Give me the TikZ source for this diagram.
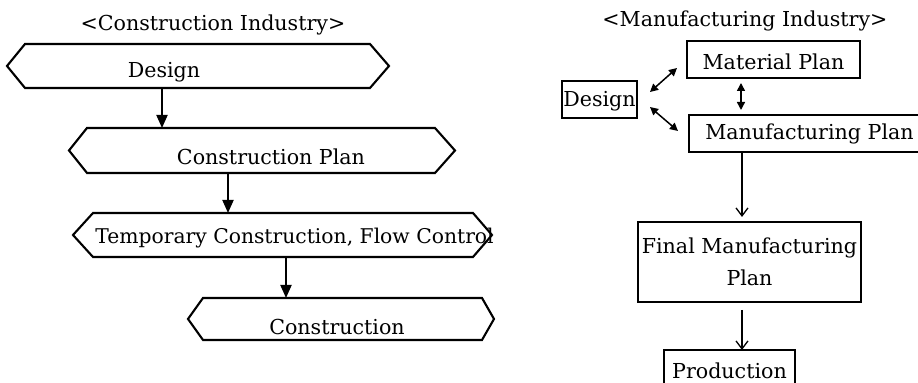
\documentclass[tikz,border=0pt]{standalone}
\usepackage{fontspec}
\setmainfont{DejaVu Serif}
\usetikzlibrary{arrows.meta}
\newcommand{\hexof}[3]{%
  \draw[hexline] (#1.west) -- ([xshift=#2]#1.north west) -- ([xshift=-#3]#1.north east) -- (#1.east)
    -- ([xshift=-#3]#1.south east) -- ([xshift=#2]#1.south west) -- cycle;}
\begin{document}
\begin{tikzpicture}[x=0.5pt,y=-0.5pt,
  every node/.style={font=\fontsize{10.3pt}{12pt}\selectfont},
  hexarea/.style={inner sep=0pt, outer sep=0pt, minimum width=#1, minimum height=22pt},
  hexline/.style={line width=1.05pt, line join=miter},
  box/.style={draw, line width=0.75pt, inner sep=0pt, outer sep=0pt, text depth=0pt},
  arrL/.style={line width=0.95pt, -{Triangle[length=6.5pt,width=5.5pt]}},
  arrR/.style={line width=0.65pt, -{Straight Barb[length=4pt,width=6pt]}},
  dbl/.style={line width=0.75pt, {Triangle[length=4pt,width=4pt]}-{Triangle[length=4pt,width=4pt]}}
]
\useasboundingbox (0,0) rectangle (918,383);
\fill[white] (0,0) rectangle (918,383);
\clip (0,0) rectangle (918,383);

% ---- Construction industry ----
\node[anchor=base] (ct) at (213,31) {<Construction Industry>};

\node[hexarea=191pt] (dh) at (198,66) {};
\hexof{dh}{9pt}{9.5pt}
\node[anchor=base] (dt) at (164,78) {Design};

\node[hexarea=193pt, minimum height=22.5pt] (cph) at (262,150.5) {};
\hexof{cph}{9pt}{10pt}
\node[anchor=base] (cpt) at (271,165) {Construction Plan};

\node[hexarea=209.5pt] (tch) at (282.5,235) {};
\hexof{tch}{10pt}{9.5pt}
\node[anchor=base west, inner xsep=0pt, font=\fontsize{10.15pt}{12pt}\selectfont] (tct) at (95,244) {Temporary Construction, Flow Control};

\node[hexarea=153pt, minimum height=21pt] (coh) at (341,319) {};
\hexof{coh}{7.5pt}{6pt}
\node[anchor=base] (cot) at (337,335) {Construction};

\coordinate (a1) at ([xshift=-18pt]dh.south);
\draw[arrL] (a1) -- (a1 |- cph.north);
\coordinate (a2) at ([xshift=-17pt]cph.south);
\draw[arrL] (a2) -- (a2 |- tch.north);
\coordinate (a3) at ([xshift=1.75pt]tch.south);
\draw[arrL] (a3) -- (a3 |- coh.north);

% ---- Manufacturing industry ----
\node[anchor=base] (mt) at (745,27) {<Manufacturing Industry>};

\node[box, minimum width=37.5pt, minimum height=18.5pt, text height=7.5pt] (rd) at (599.5,99.5) {Design};
\node[box, minimum width=86.5pt, minimum height=18.5pt, text height=10.5pt] (mp) at (773.5,59.5) {Material Plan};
\node[box, minimum width=120.5pt, minimum height=18.5pt, text height=6.5pt] (mf) at (809.5,133.5) {Manufacturing Plan};
\node[draw, line width=0.75pt, inner sep=0pt, outer sep=0pt, minimum width=111.5pt, minimum height=40pt,
      align=center, font=\fontsize{10.3pt}{16pt}\selectfont] (fp) at (749.5,262) {Final Manufacturing\\Plan};
\node[box, line width=1.2pt, minimum width=65.5pt, minimum height=22.5pt, text height=6.5pt] (pr) at (729.5,372.5) {Production};

\coordinate (b1s) at ([xshift=6.5pt,yshift=3.75pt]rd.east);
\coordinate (b1e) at ([xshift=-5pt,yshift=-4.25pt]mp.west);
\draw[dbl] (b1s) -- (b1e);
\coordinate (b2s) at ([xshift=6.5pt,yshift=-3.75pt]rd.east);
\coordinate (b2e) at ([xshift=-5.5pt,yshift=1.25pt]mf.west);
\draw[dbl] (b2s) -- (b2e);
\coordinate (b3s) at ([xshift=-16.25pt,yshift=-2.5pt]mp.south);
\coordinate (b3m) at (b3s |- mf.north);
\coordinate (b3e) at ([yshift=2.5pt]b3m);
\draw[dbl] (b3s) -- (b3e);

\coordinate (c1) at ([xshift=-3.75pt]fp.north);
\draw[arrR] (c1 |- mf.south) -- ([yshift=2.5pt]c1);
\coordinate (c2) at ([xshift=-3.75pt,yshift=-4pt]fp.south);
\draw[arrR] (c2) -- (c2 |- pr.north);
\end{tikzpicture}
\end{document}
